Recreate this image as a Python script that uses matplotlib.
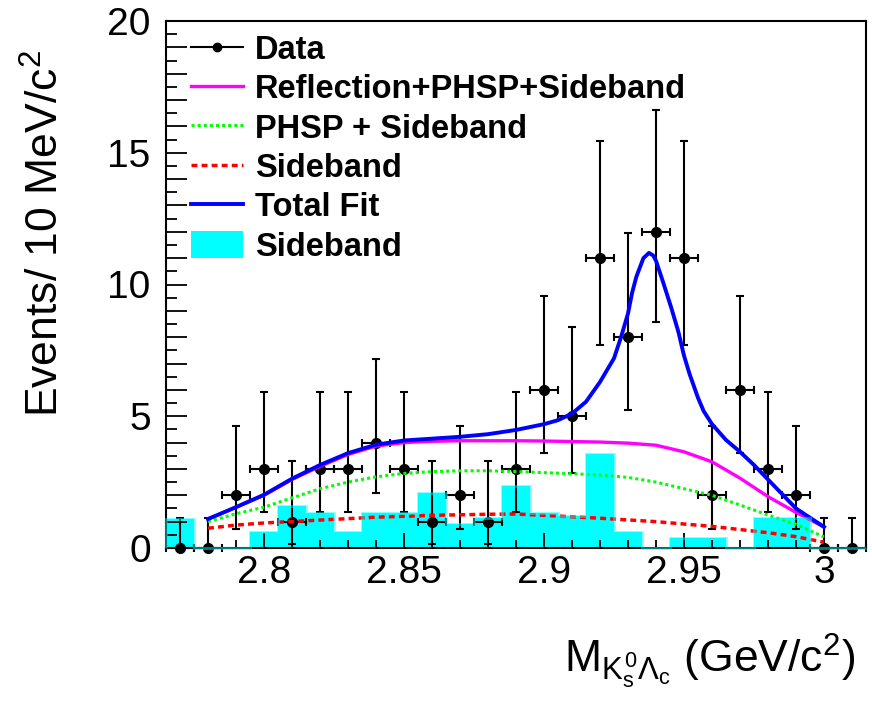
import matplotlib
matplotlib.use("Agg")
import matplotlib.pyplot as plt
from matplotlib.lines import Line2D
from matplotlib.patches import Patch
from matplotlib.ticker import MultipleLocator, FuncFormatter

plt.rcParams['font.family'] = ['Liberation Sans', 'DejaVu Sans']
plt.rcParams['mathtext.fontset'] = 'custom'
plt.rcParams['mathtext.rm'] = 'Liberation Sans'
plt.rcParams['mathtext.it'] = 'Liberation Sans'
plt.rcParams['mathtext.bf'] = 'Liberation Sans:bold'

# bins of 10 MeV
bin_edges = [2.765, 2.775, 2.785, 2.795, 2.805, 2.815, 2.825, 2.835, 2.845, 2.855,
             2.865, 2.875, 2.885, 2.895, 2.905, 2.915, 2.925, 2.935, 2.945, 2.955,
             2.965, 2.975, 2.985, 2.995, 3.005, 3.015]
bin_centers = [2.77, 2.78, 2.79, 2.80, 2.81, 2.82, 2.83, 2.84, 2.85, 2.86,
               2.87, 2.88, 2.89, 2.90, 2.91, 2.92, 2.93, 2.94, 2.95, 2.96,
               2.97, 2.98, 2.99, 3.00, 3.01]

# data counts and asymmetric errors
data_counts = [0, 0, 2, 3, 1, 3, 3, 4, 3, 1, 2, 1, 3, 6, 5, 11, 8, 12, 11, 2, 6, 3, 2, 0, 0]
err_low = [0, 0, 1.29, 1.63, 0.83, 1.63, 1.63, 1.91, 1.63, 0.83, 1.29, 0.83, 1.63,
           2.38, 2.16, 3.28, 2.77, 3.44, 3.28, 1.29, 2.38, 1.63, 1.29, 0, 0]
err_high = [1.15, 1.15, 2.64, 2.92, 2.30, 2.92, 2.92, 3.16, 2.92, 2.30, 2.64, 2.30, 2.92,
            3.58, 3.38, 4.46, 3.95, 4.62, 4.46, 2.64, 3.58, 2.92, 2.64, 1.15, 1.15]
x_err = [0.005] * 25

# sideband histogram (cyan)
sideband_hist = [1.1, 0, 0, 0.6, 1.6, 1.33, 0.6, 1.33, 1.33, 2.1, 0.9, 1.13, 2.35,
                 1.33, 1.2, 3.57, 0.6, 0, 0.38, 0.38, 0, 1.13, 1.13, 0, 0]

# Reflection+PHSP+Sideband
refl_x = [2.78, 2.79, 2.80, 2.81, 2.82, 2.83, 2.84, 2.85, 2.86, 2.87, 2.88, 2.89,
          2.90, 2.91, 2.92, 2.93, 2.94, 2.95, 2.96, 2.97, 2.98, 2.99, 3.00]
refl_y = [1.1, 1.55, 2.0, 2.6, 3.1, 3.55, 3.87, 4.0, 4.05, 4.07, 4.07, 4.07,
          4.06, 4.04, 4.02, 3.98, 3.9, 3.65, 3.27, 2.65, 1.95, 1.35, 0.8]

# PHSP + Sideband
phsp_x = [2.78, 2.79, 2.80, 2.81, 2.82, 2.83, 2.84, 2.85, 2.86, 2.87, 2.88, 2.89,
          2.90, 2.91, 2.92, 2.93, 2.94, 2.95, 2.96, 2.97, 2.98, 2.99, 3.00]
phsp_y = [1.0, 1.3, 1.55, 1.9, 2.25, 2.5, 2.7, 2.83, 2.9, 2.93, 2.93, 2.9,
          2.86, 2.82, 2.77, 2.68, 2.5, 2.25, 2.0, 1.63, 1.25, 0.9, 0.42]

# Sideband shape
sb_x = [2.78, 2.79, 2.80, 2.82, 2.84, 2.86, 2.88, 2.89, 2.90, 2.92, 2.94, 2.96, 2.98, 2.99, 3.00]
sb_y = [0.75, 0.87, 0.95, 1.06, 1.17, 1.24, 1.28, 1.29, 1.24, 1.13, 1.0, 0.82, 0.58, 0.43, 0.22]

# Total fit
fit_x = [2.78, 2.79, 2.80, 2.81, 2.82, 2.83, 2.84, 2.85, 2.86, 2.87, 2.88, 2.89,
         2.90, 2.905, 2.91, 2.915, 2.92, 2.925, 2.9275, 2.93, 2.9315, 2.933, 2.9355,
         2.9375, 2.939, 2.94, 2.9425, 2.9455, 2.948, 2.95, 2.952, 2.955, 2.957,
         2.96, 2.965, 2.97, 2.975, 2.98, 2.985, 2.99, 2.995, 3.00]
fit_y = [1.1, 1.55, 2.02, 2.63, 3.15, 3.6, 3.92, 4.08, 4.15, 4.22, 4.32, 4.48,
         4.7, 4.85, 5.1, 5.55, 6.3, 7.2, 8.0, 8.9, 9.7, 10.3, 11.0,
         11.2, 11.1, 10.9, 10.1, 9.1, 8.2, 7.3, 6.6, 5.7, 5.2,
         4.7, 4.1, 3.65, 3.15, 2.6, 2.05, 1.5, 1.15, 0.8]

fig = plt.figure(figsize=(8.72, 7.03), dpi=100)
ax = fig.add_axes([166 / 872, 155 / 703, 700 / 872, 527 / 703])

# histogram
ax.stairs(sideband_hist, bin_edges, fill=True, color='#00ffff', zorder=1)
ax.stairs(sideband_hist, bin_edges, color='#00ffff', lw=2.0, alpha=0.5, zorder=6, clip_on=False)

# data
ax.errorbar(bin_centers, data_counts, yerr=[err_low, err_high], xerr=x_err,
            fmt='o', color='black', ms=7, elinewidth=1.5, capsize=3, capthick=1.5,
            zorder=3, clip_on=False)

# curves
ax.plot(refl_x, refl_y, color='#ff00ff', lw=2.4, zorder=4)
ax.plot(phsp_x, phsp_y, color='#00ff00', lw=2.2, ls=(0, (1, 1)), zorder=4)
ax.plot(sb_x, sb_y, color='#ff0000', lw=2.5, ls=(0, (1.7, 1.2)), zorder=4)
ax.plot(fit_x, fit_y, color='#0000ff', lw=2.8, zorder=5)

ax.set_xlim(2.765, 3.015)
ax.set_ylim(0, 20)

ax.xaxis.set_major_locator(MultipleLocator(0.05))
ax.xaxis.set_minor_locator(MultipleLocator(0.01))
ax.xaxis.set_major_formatter(FuncFormatter(lambda v, p: ('%g' % round(v, 3))))
ax.yaxis.set_major_locator(MultipleLocator(1))
ax.yaxis.set_minor_locator(MultipleLocator(0.5))
ax.yaxis.set_major_formatter(FuncFormatter(lambda v, p: ('%d' % v) if abs(v % 5) < 1e-6 else ''))

ax.tick_params(axis='both', which='both', direction='in', labelsize=28, width=1.3, color='black')
ax.tick_params(axis='x', which='major', length=11, pad=5)
ax.tick_params(axis='x', which='minor', length=5.5)
ax.tick_params(axis='y', which='major', length=15, pad=11)
ax.tick_params(axis='y', which='minor', length=8)
for s in ax.spines.values():
    s.set_linewidth(1.5)

fig.text(46 / 872, 1 - 234 / 703, 'Events/ 10 MeV/c$^{2}$', rotation=90,
         ha='center', va='center', fontsize=32)
fig.text(855 / 872, 1 - 672 / 703, r'M$_{K_s^0\Lambda_c}$ (GeV/c$^{2}$)',
         ha='right', va='baseline', fontsize=32)

handles = [
    Line2D([], [], color='black', marker='o', ms=6, lw=1.5),
    Line2D([], [], color='#ff00ff', lw=2.4),
    Line2D([], [], color='#00ff00', lw=2.2, ls=(0, (1, 1))),
    Line2D([], [], color='#ff0000', lw=2.5, ls=(0, (1.7, 1.2))),
    Line2D([], [], color='#0000ff', lw=2.8),
    Patch(facecolor='#00ffff', edgecolor='none'),
]
labels = ['Data', 'Reflection+PHSP+Sideband', 'PHSP + Sideband', 'Sideband', 'Total Fit', 'Sideband']
ax.legend(handles, labels, loc='upper left', bbox_to_anchor=(0.036, 0.975),
          frameon=False, borderpad=0, borderaxespad=0, handlelength=1.6,
          handleheight=0.9, handletextpad=0.35, labelspacing=0.23,
          prop={'family': 'Liberation Sans', 'weight': 'bold', 'size': 23.5})

fig.savefig('out.png', dpi=100)
